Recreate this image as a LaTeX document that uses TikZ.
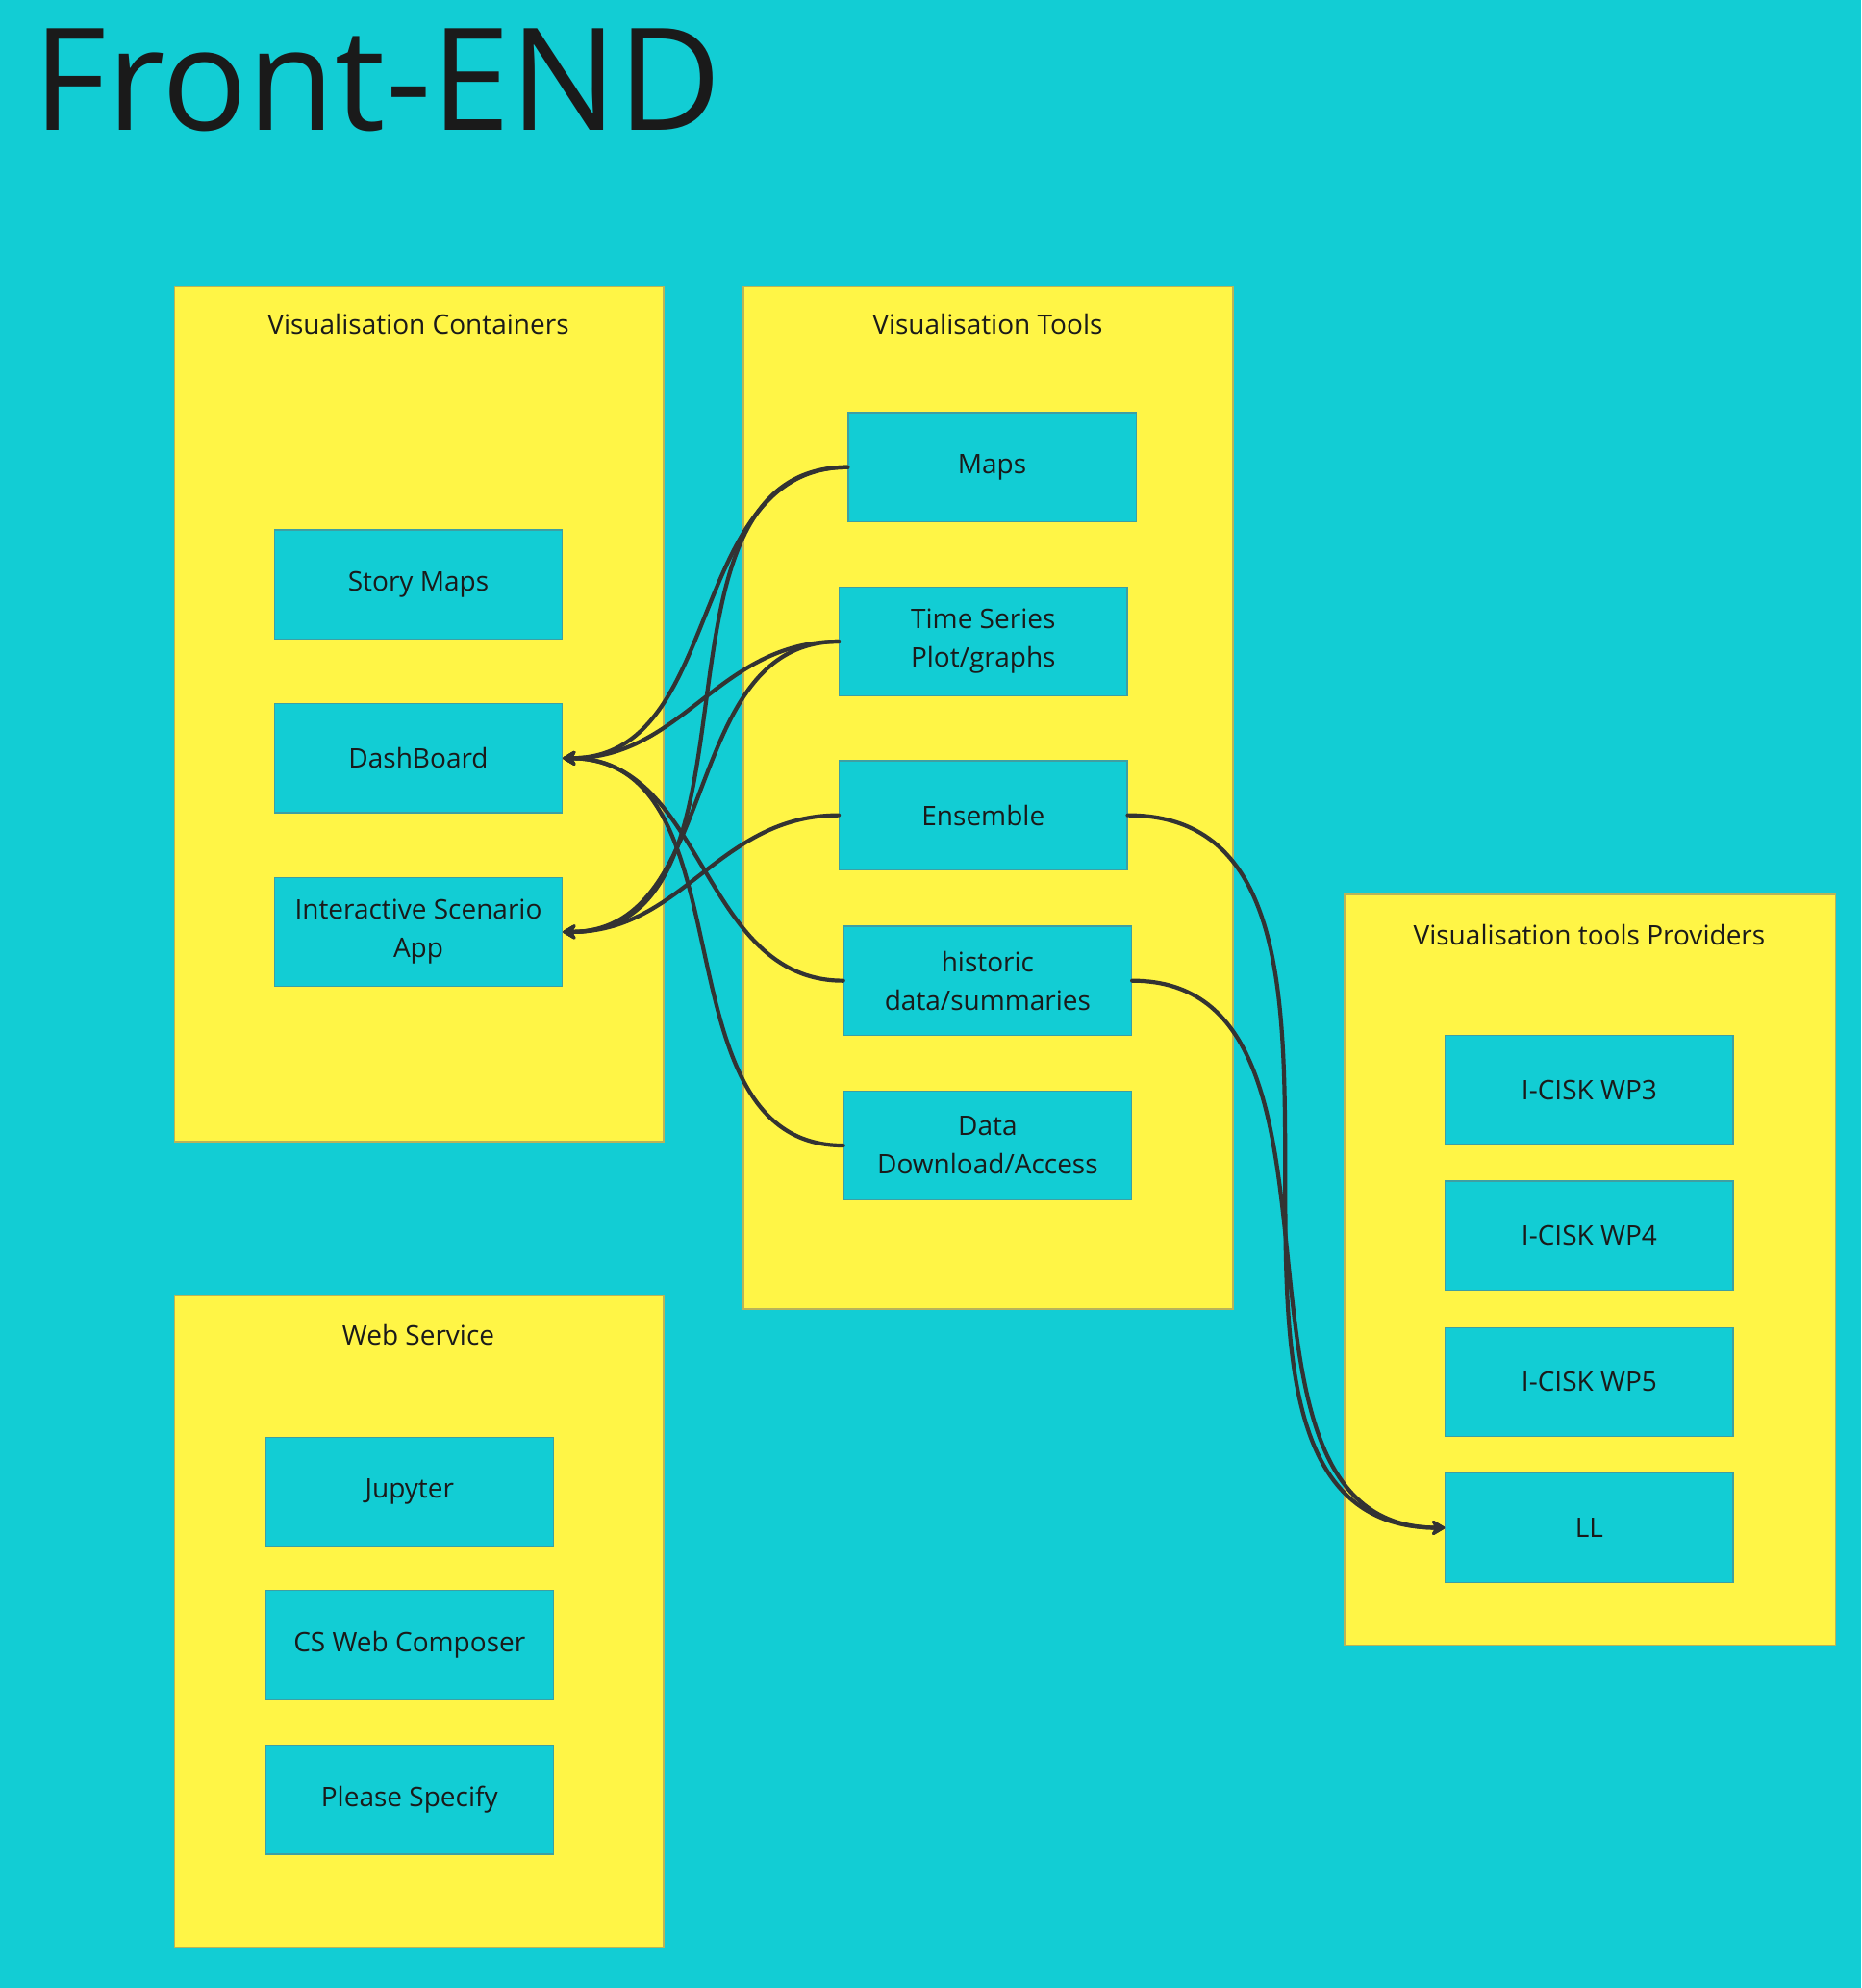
\documentclass[tikz,border=0pt]{standalone}
\usepackage{fontspec}
\setmainfont{Open Sans}
\usetikzlibrary{arrows.meta}
\definecolor{bgcyan}{HTML}{12CDD4}
\definecolor{stickyyellow}{HTML}{FFF546}
\definecolor{txtcol}{HTML}{1A1A1A}
\definecolor{conncol}{HTML}{333333}
\definecolor{framecol}{HTML}{B8B35A}
\definecolor{boxcol}{HTML}{3E9FA3}
\newcommand{\pxl}{0.65906pt}
\begin{document}
\begin{tikzpicture}[x=0.65906pt,y=-0.65906pt,
  container/.style={draw=framecol, line width=0.6pt, fill=stickyyellow, anchor=north west, inner sep=0pt},
  ctitle/.style={text=txtcol, font=\fontsize{14pt}{20pt}\selectfont, inner sep=0pt},
  toolbox/.style={draw=boxcol, line width=0.6pt, fill=bgcyan, text=txtcol,
     minimum width=227*\pxl, minimum height=86*\pxl, inner sep=0pt, align=center,
     font=\fontsize{14pt}{20pt}\selectfont},
  conn/.style={draw=conncol, line width=2.1pt, line cap=round},
  arr/.style={conn, -{Stealth[length=8.5pt, width=10pt, inset=3pt, round]}}
]
% background
\fill[bgcyan] (0,0) rectangle (1468,1568);
\useasboundingbox (0,0) rectangle (1468,1568);

% title
\node[anchor=base west, inner sep=0pt, text=txtcol, font=\fontsize{74pt}{80pt}\selectfont] (title) at (26,103) {Front-END};

% containers
\node[container, minimum width=386*\pxl, minimum height=675*\pxl] (vc) at (137,225) {};
\node[ctitle] (vctitle) at (330,256) {Visualisation Containers};
\node[container, minimum width=386*\pxl, minimum height=807*\pxl] (vt) at (586,225) {};
\node[ctitle] (vttitle) at (779,256) {Visualisation Tools};
\node[container, minimum width=387*\pxl, minimum height=592*\pxl] (vp) at (1060,705) {};
\node[ctitle] (vptitle) at (1253.5,737) {Visualisation tools Providers};
\node[container, minimum width=386*\pxl, minimum height=514*\pxl] (ws) at (137,1021) {};
\node[ctitle] (wstitle) at (330,1053) {Web Service};

% visualisation containers
\node[toolbox] (story) at (330,461) {Story Maps};
\node[toolbox] (dash) at (330,598) {DashBoard};
\node[toolbox] (inter) at (330,735) {Interactive Scenario\\App};

% visualisation tools
\node[toolbox] (maps) at (782.5,368.5) {Maps};
\node[toolbox] (ts) at (775.5,506) {Time Series\\Plot/graphs};
\node[toolbox] (ens) at (775.5,643) {Ensemble};
\node[toolbox] (hist) at (779,773.5) {historic\\data/summaries};
\node[toolbox] (dda) at (779,903.5) {Data\\Download/Access};

% providers
\node[toolbox] (wp3) at (1253.5,859.5) {I-CISK WP3};
\node[toolbox] (wp4) at (1253.5,974.5) {I-CISK WP4};
\node[toolbox] (wp5) at (1253.5,1090) {I-CISK WP5};
\node[toolbox] (ll) at (1253.5,1205) {LL};

% web service
\node[toolbox] (jup) at (323,1176.5) {Jupyter};
\node[toolbox] (csw) at (323,1297.5) {CS Web Composer};
\node[toolbox] (ps) at (323,1419.5) {Please Specify};

% connectors
\draw[arr] (maps.west) .. controls +(-129,0) and +(129,0) .. (dash.east);
\draw[arr] (ts.west) .. controls +(-95,0) and +(95,0) .. (dash.east);
\draw[arr] (hist.west) .. controls +(-113,0) and +(113,0) .. (dash.east);
\draw[arr] (dda.west) .. controls +(-151,0) and +(151,0) .. (dash.east);
\draw[arr] (maps.west) .. controls +(-172,0) and +(172,0) .. (inter.east);
\draw[arr] (ts.west) .. controls +(-127,0) and +(127,0) .. (inter.east);
\draw[arr] (ens.west) .. controls +(-95,0) and +(95,0) .. (inter.east);
\draw[arr] (ens.east) .. controls +(246,0) and +(-246,0) .. (ll.west);
\draw[arr] (hist.east) .. controls +(199,0) and +(-199,0) .. (ll.west);
\end{tikzpicture}
\end{document}
